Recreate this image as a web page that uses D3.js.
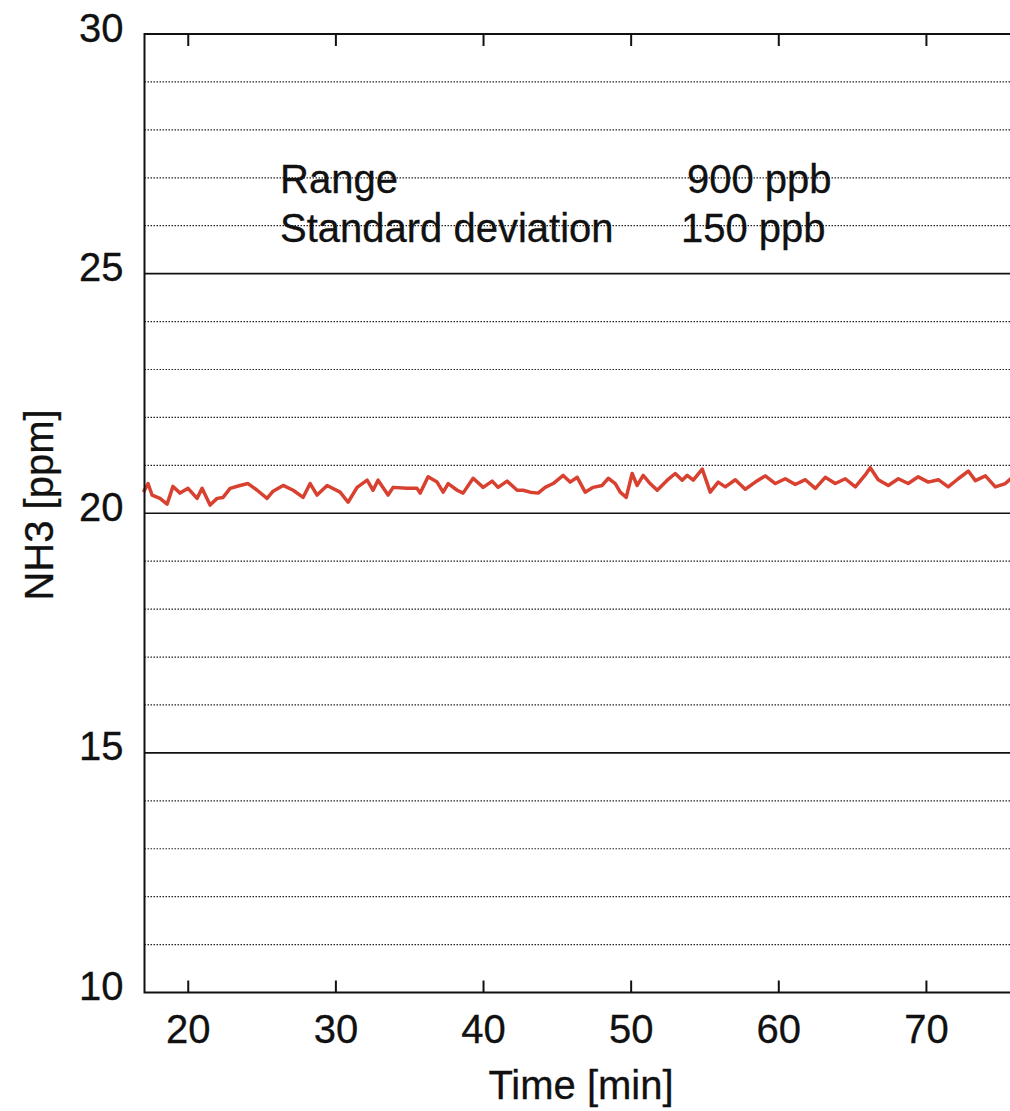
<!DOCTYPE html>
<html>
<head>
<meta charset="utf-8">
<script src="https://cdn.jsdelivr.net/npm/d3@7"></script>
<style>
  body { margin: 0; background: white; }
  text { font-family: "Liberation Sans", Arial, sans-serif; fill: #111; stroke: #111; stroke-width: 0.3px; }
</style>
</head>
<body>
<div id="viz"></div>
<script>
// data: time [min] and NH3 [ppm]
var times = [17.0, 17.31, 17.58, 18.12, 18.6, 19.0, 19.48, 20.02, 20.63, 20.97, 21.51, 21.99, 22.39, 22.87,
  23.54, 24.08, 24.7, 25.37, 25.78, 26.46, 27.14, 27.81, 28.29, 28.76, 29.44, 30.32, 30.86, 31.47, 32.15,
  32.55, 32.89, 33.57, 33.91, 34.86, 35.53, 35.74, 36.28, 36.89, 37.3, 37.64, 38.25, 38.65, 39.33, 40.01,
  40.62, 41.02, 41.63, 42.31, 42.72, 43.19, 43.73, 44.21, 44.75, 45.43, 45.9, 46.38, 46.92, 47.46, 48.07,
  48.48, 48.96, 49.29, 49.7, 50.1, 50.44, 50.85, 51.32, 51.8, 52.48, 53.02, 53.49, 53.83, 54.24, 54.85,
  55.39, 55.93, 56.41, 57.09, 57.76, 58.44, 59.12, 59.8, 60.47, 61.15, 61.83, 62.51, 63.18, 63.86, 64.54,
  65.22, 65.89, 66.23, 66.77, 67.45, 68.13, 68.8, 69.48, 70.16, 70.84, 71.51, 72.19, 72.87, 73.35, 74.03,
  74.7, 75.38, 75.85];
var nh3 = [20.44, 20.62, 20.38, 20.31, 20.19, 20.56, 20.42, 20.52, 20.31, 20.52, 20.17, 20.31, 20.33, 20.52,
  20.58, 20.62, 20.48, 20.31, 20.46, 20.58, 20.48, 20.33, 20.62, 20.38, 20.58, 20.44, 20.23, 20.54, 20.69,
  20.48, 20.69, 20.38, 20.54, 20.52, 20.52, 20.42, 20.76, 20.65, 20.44, 20.62, 20.48, 20.42, 20.73, 20.54,
  20.67, 20.54, 20.67, 20.48, 20.48, 20.44, 20.42, 20.54, 20.62, 20.79, 20.65, 20.75, 20.44, 20.54, 20.58,
  20.73, 20.62, 20.44, 20.33, 20.83, 20.58, 20.79, 20.62, 20.48, 20.69, 20.83, 20.69, 20.79, 20.69, 20.92,
  20.44, 20.65, 20.55, 20.7, 20.5, 20.65, 20.78, 20.62, 20.72, 20.6, 20.7, 20.52, 20.75, 20.62, 20.72,
  20.55, 20.8, 20.95, 20.7, 20.58, 20.72, 20.62, 20.76, 20.65, 20.7, 20.55, 20.72, 20.88, 20.68, 20.78,
  20.55, 20.62, 20.75];

var xTicks = [20, 30, 40, 50, 60, 70];
var yTicks = [10, 15, 20, 25, 30];
var yMinor = [11, 12, 13, 14, 16, 17, 18, 19, 21, 22, 23, 24, 26, 27, 28, 29];
var statLabels = ['Range', 'Standard deviation'];
var statValues = ['900 ppb', '150 ppb'];

// plot box (right border falls outside the picture)
var margin = {top: 34, left: 144.5},
    width = 870,
    height = 958.5;

var svg = d3.select('#viz').append('svg')
    .attr('width', 1010)
    .attr('height', 1111)
    .append('g')
    .attr('transform', 'translate(' + margin.left + ',' + margin.top + ')');

var x = d3.scaleLinear().domain([17.07, 76]).range([0, width]);
var y = d3.scaleLinear().domain([10, 30]).range([height, 0]);

// minor grid, dotted
svg.selectAll('.minor')
    .data(yMinor)
    .enter().append('line')
    .attr('x1', 0)
    .attr('x2', width)
    .attr('y1', function(d) { return y(d); })
    .attr('y2', function(d) { return y(d); })
    .attr('stroke', '#222')
    .attr('stroke-width', 1.2)
    .attr('stroke-dasharray', '1.5,1.5');

// major grid, solid
svg.selectAll('.major')
    .data(yTicks.filter(function(d) { return d > 10 && d < 30; }))
    .enter().append('line')
    .attr('x1', 0)
    .attr('x2', width)
    .attr('y1', function(d) { return y(d); })
    .attr('y2', function(d) { return y(d); })
    .attr('stroke', '#111')
    .attr('stroke-width', 1.6);

// the series
var valueline = d3.line()
    .x(function(d) { return x(d[0]); })
    .y(function(d) { return y(d[1]); });

svg.append('path')
    .datum(d3.zip(times, nh3))
    .attr('fill', 'none')
    .attr('stroke', '#d8402f')
    .attr('stroke-width', 3.5)
    .attr('stroke-linejoin', 'round')
    .attr('d', valueline);

// bottom axis, ticks pointing inward
var x_axis = svg.append('g')
    .attr('transform', 'translate(0,' + height + ')')
    .call(d3.axisBottom(x).tickValues(xTicks).tickSizeInner(-12).tickSizeOuter(0).tickPadding(22));
x_axis.selectAll('text').style('font-size', '40px').attr('dy', '0.72em');

// top axis mirror ticks
svg.append('g')
    .call(d3.axisTop(x).tickValues(xTicks).tickSizeInner(-12).tickSizeOuter(0).tickFormat(''));

// left axis
var y_axis = svg.append('g')
    .call(d3.axisLeft(y).tickValues(yTicks).tickSize(0).tickPadding(21));
y_axis.selectAll('text').style('font-size', '40px').attr('dy', '7px');

svg.selectAll('.domain').remove();
svg.selectAll('.tick line').attr('stroke', '#111').attr('stroke-width', 2);

// frame
svg.append('rect')
    .attr('x', 0)
    .attr('y', 0)
    .attr('width', width)
    .attr('height', height)
    .attr('fill', 'none')
    .attr('stroke', '#111')
    .attr('stroke-width', 2);

// axis labels
svg.append('text')
    .attr('x', 581 - margin.left)
    .attr('y', 1099 - margin.top)
    .attr('text-anchor', 'middle')
    .style('font-size', '40px')
    .text('Time [min]');

svg.append('text')
    .attr('transform', 'translate(' + (53 - margin.left) + ',' + (505 - margin.top) + ') rotate(-90)')
    .attr('text-anchor', 'middle')
    .style('font-size', '40px')
    .text('NH3 [ppm]');

// annotation
var statX = [280, 687],
    statY = [193, 242];
for (var i = 0; i < statLabels.length; i++) {
  svg.append('text')
    .attr('x', statX[0] - margin.left)
    .attr('y', statY[i] - margin.top)
    .style('font-size', '40px')
    .text(statLabels[i]);
  svg.append('text')
    .attr('x', statX[1] - (i == 1 ? 6 : 0) - margin.left)
    .attr('y', statY[i] - margin.top)
    .style('font-size', '40px')
    .text(statValues[i]);
}
</script>
</body>
</html>
